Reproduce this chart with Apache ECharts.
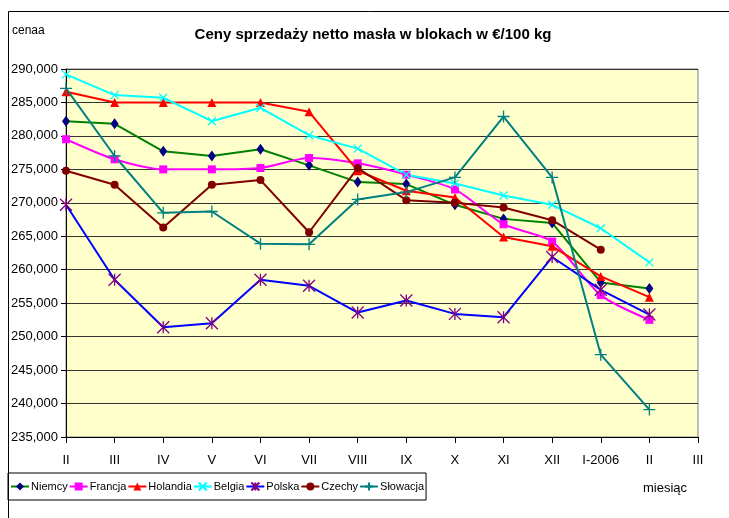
<!DOCTYPE html>
<html>
<head>
<meta charset="utf-8">
<script src="https://cdn.jsdelivr.net/npm/echarts@6/dist/echarts.min.js"></script>
<style>
  html, body { margin: 0; padding: 0; background: #fff; }
  #chart { width: 729px; height: 518px; }
</style>
</head>
<body>
<div id="chart"></div>
<script>
// miesiące (oś X)
const categories = ['II', 'III', 'IV', 'V', 'VI', 'VII', 'VIII', 'IX', 'X', 'XI', 'XII', 'I-2006', 'II', 'III'];

// ceny netto w €/100 kg
const niemcy   = [282200, 281800, 277700, 277000, 278000, 275600, 273100, 272800, 269700, 267600, 267000, 258100, 257200, null];
const francja  = [279500, 276500, 275000, 275000, 275200, 276700, 275900, 274200, 272000, 266800, 264200, 256200, 252500, null];
const holandia = [286600, 285000, 285000, 285000, 285000, 283600, 274800, 271800, 270800, 264900, 263500, 259000, 255900, null];
const belgia   = [289200, 286100, 285700, 282200, 284200, 280100, 278100, 274200, 272900, 271100, 269700, 266200, 261100, null];
const polska   = [269700, 258500, 251400, 252000, 258500, 257600, 253600, 255400, 253400, 252900, 261900, 257000, 253300, null];
const czechy   = [274800, 272700, 266300, 272700, 273400, 265600, 275200, 270400, 270000, 269300, 267400, 263000, null, null];
const slowacja = [287100, 277000, 268500, 268700, 263900, 263800, 270500, 271600, 273800, 282900, 273800, 247300, 239100, null];

const FONT = '"Liberation Sans", Arial, sans-serif';

// symbole rysowane kreskami
const SYM_X = 'path://M0,0L10,10M0,10L10,0';
const SYM_PLUS = 'path://M5,0L5,10M0,5L10,5';
const SYM_STAR = 'path://M0,0L10,10M0,10L10,0M5,0L5,10';

function makeSeries(name, data, lineColor, markColor, symbol, size, stroked, smooth) {
    return {
        name: name,
        type: 'line',
        data: data,
        smooth: smooth || false,
        symbol: symbol,
        symbolSize: size,
        showAllSymbol: true,
        connectNulls: false,
        lineStyle: { color: lineColor, width: 2 },
        itemStyle: stroked
            ? { color: markColor, borderColor: markColor, borderWidth: 1.3 }
            : { color: markColor, borderColor: markColor, borderWidth: 0 },
        emphasis: { disabled: true },
        z: 3
    };
}

const chart = echarts.init(document.getElementById('chart'));

const option = {
    animation: false,
    backgroundColor: '#fff',
    textStyle: { fontFamily: FONT },
    graphic: [
        {
            type: 'rect',
            shape: { x: 8.5, y: 11.5, width: 900, height: 700 },
            style: { fill: 'none', stroke: '#000', lineWidth: 1 },
            silent: true, z: -1
        },
        {
            type: 'text', x: 12, y: 31,
            style: { text: 'cenaa', font: '12px ' + FONT, fill: '#000', textVerticalAlign: 'middle' }
        },
        {
            type: 'text', x: 373, y: 35,
            style: {
                text: 'Ceny sprzedaży netto masła w blokach w €/100 kg',
                font: 'bold 15px ' + FONT, fill: '#000',
                textAlign: 'center', textVerticalAlign: 'middle'
            }
        },
        {
            type: 'text', x: 665, y: 488,
            style: { text: 'miesiąc', font: '13px ' + FONT, fill: '#000', textAlign: 'center', textVerticalAlign: 'middle' }
        }
    ],
    legend: {
        left: 8,
        top: 473,
        orient: 'horizontal',
        itemWidth: 18,
        itemHeight: 10,
        itemGap: 1,
        padding: [8, 2, 8, 2],
        borderColor: '#000',
        borderWidth: 1,
        textStyle: { fontFamily: FONT, fontSize: 11, color: '#000', padding: [0, 0, 0, -3] },
        data: ['Niemcy', 'Francja', 'Holandia', 'Belgia', 'Polska', 'Czechy', 'Słowacja']
    },
    grid: {
        left: 66,
        top: 69,
        right: 31,
        bottom: 81,
        show: true,
        backgroundColor: '#FFFFCC',
        borderColor: '#808080',
        borderWidth: 1,
        containLabel: false,
        outerBoundsMode: 'none'
    },
    xAxis: {
        type: 'category',
        boundaryGap: false,
        data: categories,
        axisLine: { show: true, lineStyle: { color: '#000', width: 1 } },
        axisTick: { show: true, alignWithLabel: true, length: 6, lineStyle: { color: '#000' } },
        axisLabel: { interval: 0, margin: 17, fontSize: 13, color: '#000', fontFamily: FONT },
        splitLine: { show: false }
    },
    yAxis: {
        type: 'value',
        min: 235000,
        max: 290000,
        interval: 5000,
        axisLine: { show: true, lineStyle: { color: '#000', width: 1 } },
        axisTick: { show: true, length: 5, lineStyle: { color: '#000' } },
        axisLabel: {
            margin: 8, fontSize: 13, color: '#000', fontFamily: FONT,
            formatter: v => v.toLocaleString('en-US')
        },
        splitLine: { show: true, lineStyle: { color: '#333', width: 1 } }
    },
    series: [
        makeSeries('Niemcy', niemcy, '#008000', '#000080', 'diamond', [8, 11], false),
        makeSeries('Francja', francja, '#FF00FF', '#FF00FF', 'rect', 8, false, 0.25),
        makeSeries('Holandia', holandia, '#FF0000', '#FF0000', 'triangle', 9, false),
        makeSeries('Belgia', belgia, '#00FFFF', '#00FFFF', SYM_X, 8, true),
        makeSeries('Polska', polska, '#0000FF', '#800080', SYM_STAR, 12, true),
        makeSeries('Czechy', czechy, '#800000', '#800000', 'circle', 8, false),
        makeSeries('Słowacja', slowacja, '#008080', '#008080', SYM_PLUS, 12, true)
    ]
};

chart.setOption(option);
</script>
</body>
</html>
